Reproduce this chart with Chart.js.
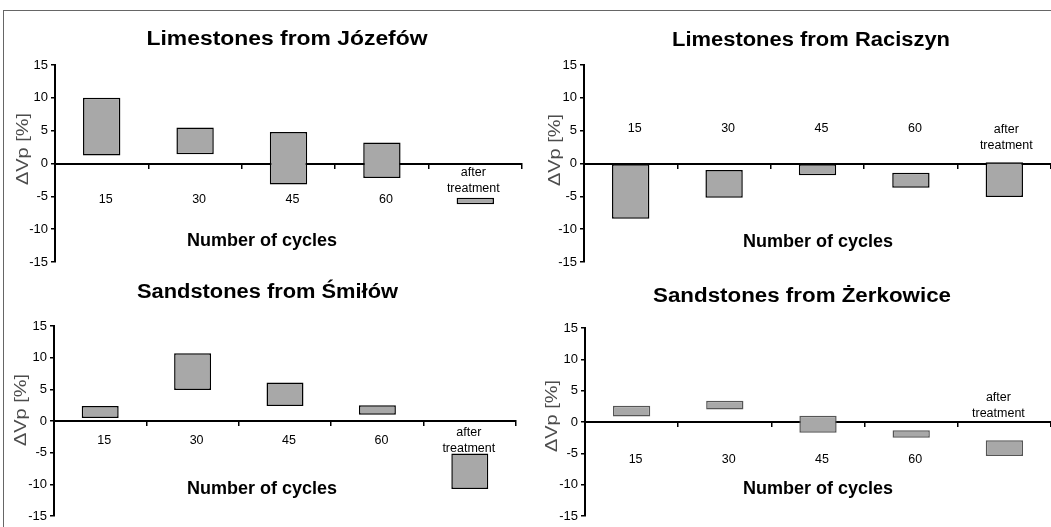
<!DOCTYPE html>
<html>
<head>
<meta charset="utf-8">
<title>ΔVp vs number of cycles</title>
<script src="https://cdn.jsdelivr.net/npm/chart.js@4.4.1/dist/chart.umd.min.js"></script>
<style>
  html, body { margin: 0; padding: 0; background: #fff; }
  #wrap { position: relative; width: 1051px; height: 527px; overflow: hidden; }
  #wrap canvas { position: absolute; left: 0; top: 0; }
  #frame { position: absolute; left: 3px; top: 10px; right: 0; bottom: 0;
           border-top: 1px solid #666; border-left: 1px solid #666; }
</style>
</head>
<body>
<div id="wrap">
  <div id="frame"></div>
  <canvas id="c1" width="1051" height="527"></canvas>
  <canvas id="c2" width="1051" height="527"></canvas>
  <canvas id="c3" width="1051" height="527"></canvas>
  <canvas id="c4" width="1051" height="527"></canvas>
</div>
<script>
// categorias (ciclos) y ticks del eje Y
const categories = ['15', '30', '45', '60', ['after', 'treatment']];
const yTicks = [-15, -10, -5, 0, 5, 10, 15];

// rangos de ΔVp [%]: [min, max] por categoría
const jozefowLow    = [1.2, 1.4, -3.2, -2.2, -6.2];
const jozefowHigh   = [10.0, 5.5, 4.8, 3.2, -5.2];
const raciszynLow   = [-8.4, -5.2, -1.8, -3.7, -5.1];
const raciszynHigh  = [0.0, -1.0, 0.0, -1.4, 0.2];
const smilowLow     = [0.5, 4.9, 2.4, 1.0, -10.7];
const smilowHigh    = [2.4, 10.7, 6.1, 2.5, -5.1];
const zerkowiceLow  = [0.9, 2.0, -1.7, -2.5, -5.4];
const zerkowiceHigh = [2.6, 3.4, 1.0, -1.3, -2.9];

const FONT = 'Arial, "Liberation Sans", sans-serif';

// cada panel ocupa su zona del lienzo (todas las capas son de 1051x527)
const panels = [
  { id: 'c1', title: 'Limestones from Józefów', low: jozefowLow, high: jozefowHigh,
    pad: { left: 15, right: 529, top: 65, bottom: 265 },
    edge: '#000', edgeW: 1.5,
    titleX: 287, titleY: 45, titleW: 281,
    xTitleX: 262, xTitleY: 246,
    yTitleX: 23, yTitleY: 149,
    numY: 200, afterY: 173, afterDx: -2 },
  { id: 'c2', title: 'Limestones from Raciszyn', low: raciszynLow, high: raciszynHigh,
    pad: { left: 544, right: 0, top: 65, bottom: 265 },
    edge: '#000', edgeW: 1.5,
    titleX: 811, titleY: 46, titleW: 278,
    xTitleX: 818, xTitleY: 246.5,
    yTitleX: 555, yTitleY: 150,
    numY: 128.5, afterY: 129.5, afterDx: 2 },
  { id: 'c3', title: 'Sandstones from Śmiłów', low: smilowLow, high: smilowHigh,
    pad: { left: 14, right: 535, top: 326, bottom: 5 },
    edge: '#000', edgeW: 1.5,
    titleX: 267.5, titleY: 298, titleW: 261,
    xTitleX: 262, xTitleY: 494,
    yTitleX: 21, yTitleY: 410,
    numY: 441, afterY: 433, afterDx: -1 },
  { id: 'c4', title: 'Sandstones from Żerkowice', low: zerkowiceLow, high: zerkowiceHigh,
    pad: { left: 545, right: 0, top: 328, bottom: 7 },
    edge: '#555', edgeW: 1.5,
    titleX: 802, titleY: 301.5, titleW: 298,
    xTitleX: 818, xTitleY: 494,
    yTitleX: 552, yTitleY: 416,
    numY: 459.5, afterY: 397.5, afterDx: -6 }
];

// texto ajustado a un ancho dado (la figura original tiene fuentes estiradas)
function drawFit(ctx, text, w) {
  const m = ctx.measureText(text).width;
  ctx.scale(w / m, 1);
  ctx.fillText(text, 0, 0);
}

function panelText(p) {
  return {
    id: 'panelText',
    afterDraw(chart) {
      const ctx = chart.ctx;
      const xs = chart.scales.x;
      ctx.save();
      ctx.fillStyle = '#000';
      ctx.textAlign = 'center';

      // título
      ctx.save();
      ctx.font = 'bold 20px ' + FONT;
      ctx.textBaseline = 'alphabetic';
      ctx.translate(p.titleX, p.titleY);
      drawFit(ctx, p.title, p.titleW);
      ctx.restore();

      // título eje X
      ctx.font = 'bold 18px ' + FONT;
      ctx.textBaseline = 'alphabetic';
      ctx.fillText('Number of cycles', p.xTitleX, p.xTitleY);

      // título eje Y (gris, rotado)
      ctx.save();
      ctx.fillStyle = '#4d4d4d';
      ctx.font = '17px ' + FONT;
      ctx.textBaseline = 'middle';
      ctx.translate(p.yTitleX, p.yTitleY);
      ctx.rotate(-Math.PI / 2);
      drawFit(ctx, 'ΔVp [%]', 72);
      ctx.restore();

      // etiquetas de categoría
      ctx.font = '12.5px ' + FONT;
      ctx.textBaseline = 'middle';
      categories.forEach((c, i) => {
        const x = xs.getPixelForValue(i);
        if (Array.isArray(c)) {
          c.forEach((line, k) => ctx.fillText(line, x + p.afterDx, p.afterY + k * 16));
        } else {
          ctx.fillText(c, x + 4, p.numY);
        }
      });
      ctx.restore();
    }
  };
}

panels.forEach(p => {
  new Chart(document.getElementById(p.id), {
    type: 'bar',
    data: {
      labels: categories.map(c => Array.isArray(c) ? c.join(' ') : c),
      datasets: [{
        data: p.low.map((lo, i) => [lo, p.high[i]]),
        backgroundColor: '#a8a8a8',
        borderColor: p.edge,
        borderWidth: p.edgeW,
        borderSkipped: false,
        barPercentage: 0.4,
        categoryPercentage: 1
      }]
    },
    options: {
      responsive: false,
      animation: false,
      layout: { padding: p.pad },
      plugins: { legend: { display: false }, tooltip: { enabled: false } },
      scales: {
        x: {
          position: { y: 0 },
          z: 1,
          offset: true,
          grid: { offset: true, drawOnChartArea: false, tickLength: 4, color: '#000', lineWidth: 1.5 },
          border: { display: true, color: '#000', width: 2 },
          ticks: { display: false }
        },
        y: {
          min: -15,
          max: 15,
          afterBuildTicks: s => { s.ticks = yTicks.map(v => ({ value: v })); },
          afterFit: s => { s.width = 40; },
          grid: { drawOnChartArea: false, tickLength: 4, color: '#000', lineWidth: 1.5 },
          border: { color: '#000', width: 2 },
          ticks: { color: '#000', padding: 3, font: { family: FONT, size: 13 } }
        }
      }
    },
    plugins: [panelText(p)]
  });
});
</script>
</body>
</html>
